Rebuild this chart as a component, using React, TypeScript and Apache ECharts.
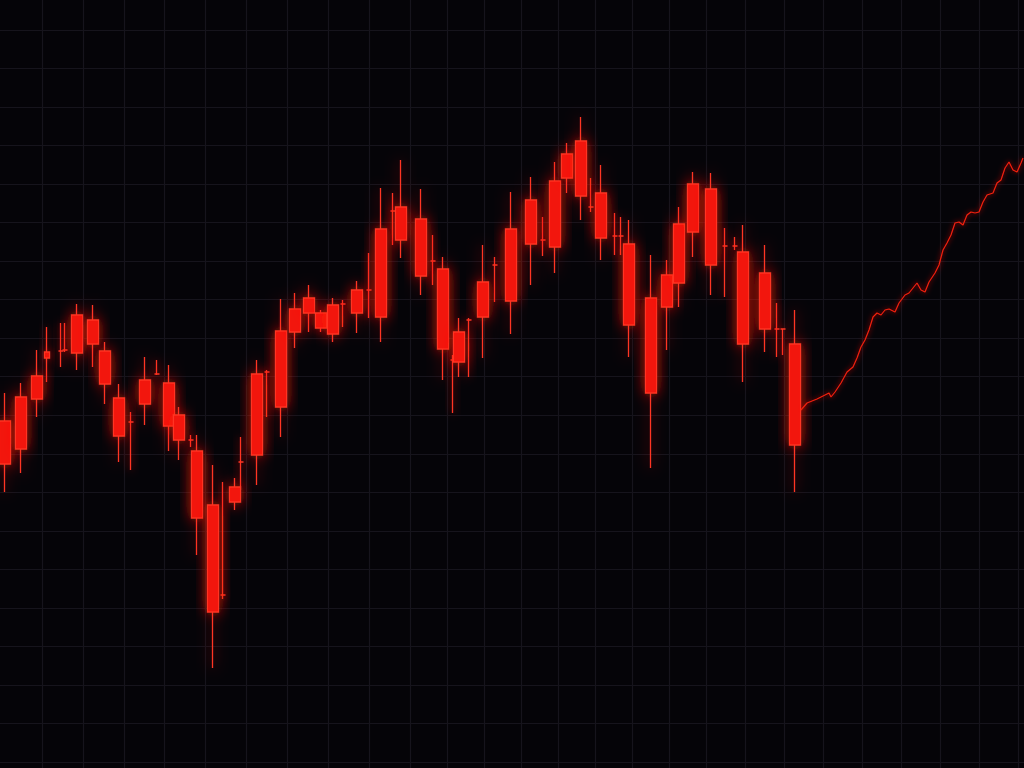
import React, { useEffect, useRef } from "react";
import * as echarts from "echarts";

// Time slots (each slot = one narrow step along the time axis)
const slotCount = 512;
const categories: string[] = Array.from({ length: slotCount }, (_, i) => String(i));

// Main candles: [slot, open, close, lowest, highest]
const mainCandles: number[][] = [
  [2, 304, 347, 276, 375],
  [10, 319, 371, 295, 385],
  [18, 369, 392, 351, 418],
  [38, 415, 453, 398, 464],
  [46, 448, 424, 401, 463],
  [52, 417, 384, 364, 426],
  [59, 370, 332, 306, 384],
  [72, 364, 388, 343, 411],
  [84, 385, 342, 317, 403],
  [89, 353, 328, 308, 361],
  [98, 317, 250, 213, 333],
  [106, 263, 156, 100, 303],
  [117, 266, 281, 258, 290],
  [128, 313, 394, 283, 408],
  [140, 361, 437, 331, 469],
  [147, 436, 459, 420, 475],
  [154, 455, 470, 436, 483],
  [160, 455, 440, 436, 458],
  [166, 434, 463, 426, 470],
  [178, 455, 478, 435, 487],
  [190, 451, 539, 426, 580],
  [200, 528, 561, 510, 608],
  [210, 549, 492, 473, 579],
  [221, 499, 419, 388, 511],
  [229, 406, 436, 391, 450],
  [241, 451, 486, 410, 523],
  [255, 467, 539, 434, 576],
  [265, 524, 568, 483, 591],
  [277, 521, 587, 495, 606],
  [283, 590, 614, 575, 625],
  [290, 627, 572, 548, 651],
  [300, 575, 530, 508, 603],
  [314, 524, 443, 411, 548],
  [325, 470, 375, 300, 513],
  [333, 461, 493, 418, 508],
  [339, 485, 544, 461, 561],
  [346, 536, 584, 511, 596],
  [355, 579, 503, 473, 595],
  [371, 516, 424, 386, 543],
  [382, 439, 495, 416, 523],
  [397, 424, 323, 276, 458],
];

// Thin doji-like candles: [slot, open, close, lowest, highest]
const dojiCandles: number[][] = [
  [23, 410, 416, 386, 441],
  [30, 417, 417, 401, 445],
  [32, 418, 418, 416, 445],
  [65, 346, 346, 298, 356],
  [78, 394, 394, 393, 408],
  [95, 328, 328, 321, 333],
  [111, 173, 173, 169, 286],
  [120, 306, 306, 278, 331],
  [133, 396, 396, 351, 398],
  [171, 464, 464, 441, 468],
  [184, 478, 478, 450, 515],
  [196, 557, 557, 523, 575],
  [216, 507, 507, 483, 533],
  [226, 408, 408, 355, 413],
  [234, 448, 448, 391, 450],
  [247, 503, 503, 466, 511],
  [271, 528, 528, 512, 551],
  [295, 561, 561, 556, 590],
  [307, 532, 532, 513, 555],
  [310, 532, 532, 513, 551],
  [362, 522, 522, 471, 540],
  [367, 522, 522, 518, 531],
  [388, 439, 439, 411, 465],
  [391, 439, 439, 413, 439],
];

// Price line after the candles: slots and values
const lineSlots: number[] = [
  400, 403, 408, 412, 414, 415, 417, 420, 423, 426, 428, 430, 432, 434, 436, 438,
  440, 442, 444, 447, 449, 452, 454, 456, 458, 460, 462, 464, 467, 469, 471, 473,
  475, 477, 479, 481, 483, 485, 487, 489, 491, 493, 496, 498, 500, 502, 504, 506,
  508, 510, 511,
];
const lineValues: number[] = [
  358, 365, 369, 373, 375, 371, 376, 385, 396, 401, 410, 421, 428, 438, 451, 455,
  453, 458, 459, 456, 465, 473, 475, 480, 485, 478, 476, 486, 495, 503, 518, 525,
  533, 545, 546, 543, 553, 556, 555, 556, 566, 573, 575, 585, 588, 600, 606, 598,
  596, 605, 610,
];

const RED = "#f2140c";
const RED_EDGE = "#ff3424";
const GLOW = "rgba(255,25,10,0.85)";
const GRID_LINE = "#16141c";
const BG = "#050408";

export default function App() {
  const ref = useRef<HTMLDivElement>(null);

  useEffect(() => {
    document.body.style.margin = "0";
    document.body.style.background = BG;
    const chart = echarts.init(ref.current!, null, { renderer: "svg" });

    const bgAxisX = (i: number, max: number, showMin: boolean) => ({
      type: "value",
      gridIndex: i,
      min: 0,
      max,
      interval: 1,
      axisLine: { show: false },
      axisTick: { show: false },
      axisLabel: { show: false },
      splitLine: { show: true, showMinLine: showMin, lineStyle: { color: GRID_LINE, width: 1.2 } },
    });
    const hiddenValue = (i: number) => ({
      type: "value",
      gridIndex: i,
      min: 0,
      max: 1,
      show: false,
      splitLine: { show: false },
    });

    const lineData = lineSlots.map((s, i) => [s, lineValues[i]]);

    chart.setOption({
      animation: false,
      backgroundColor: BG,
      grid: [
        { left: 42, width: 368, top: 0, height: 768 },
        { left: 410, width: 296, top: 0, height: 768 },
        { left: 706, width: 312, top: 0, height: 768 },
        { left: 0, width: 1024, top: 30, height: 732 },
        { left: 0, width: 1024, top: 0, height: 768 },
      ],
      xAxis: [
        bgAxisX(0, 9, true),
        bgAxisX(1, 8, false),
        bgAxisX(2, 8, false),
        hiddenValue(3),
        {
          type: "category",
          gridIndex: 4,
          data: categories,
          boundaryGap: true,
          show: false,
        },
      ],
      yAxis: [
        hiddenValue(0),
        hiddenValue(1),
        hiddenValue(2),
        {
          type: "value",
          gridIndex: 3,
          min: 0,
          max: 19,
          interval: 1,
          axisLine: { show: false },
          axisTick: { show: false },
          axisLabel: { show: false },
          splitLine: { show: true, lineStyle: { color: GRID_LINE, width: 1.2 } },
        },
        { type: "value", gridIndex: 4, min: 0, max: 768, show: false, splitLine: { show: false } },
      ],
      series: [
        {
          type: "candlestick",
          xAxisIndex: 4,
          yAxisIndex: 4,
          data: dojiCandles,
          encode: { x: 0, y: [1, 2, 3, 4] },
          barWidth: 6,
          itemStyle: {
            color: RED,
            color0: RED,
            borderColor: RED_EDGE,
            borderColor0: RED_EDGE,
            borderColorDoji: RED_EDGE,
            borderWidth: 1.3,
            shadowBlur: 8,
            shadowColor: GLOW,
          },
        },
        {
          type: "candlestick",
          xAxisIndex: 4,
          yAxisIndex: 4,
          data: mainCandles,
          encode: { x: 0, y: [1, 2, 3, 4] },
          barWidth: 11,
          itemStyle: {
            color: RED,
            color0: RED,
            borderColor: RED_EDGE,
            borderColor0: RED_EDGE,
            borderColorDoji: RED_EDGE,
            borderWidth: 1.3,
            shadowBlur: 14,
            shadowColor: GLOW,
          },
        },
        {
          type: "line",
          xAxisIndex: 4,
          yAxisIndex: 4,
          data: lineData,
          showSymbol: false,
          symbol: "none",
          connectNulls: true,
          lineStyle: {
            color: "#f0200f",
            width: 1.2,
            shadowBlur: 5,
            shadowColor: GLOW,
          },
        },
      ],
    });

    return () => chart.dispose();
  }, []);

  return (
    <div
      ref={ref}
      style={{ position: "fixed", left: 0, top: 0, width: 1024, height: 768 }}
    />
  );
}
